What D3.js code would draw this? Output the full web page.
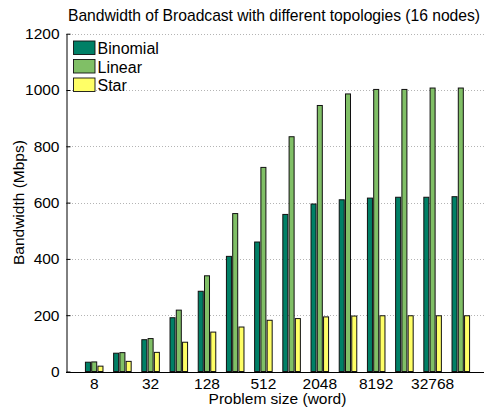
<!DOCTYPE html>
<html>
<head>
<meta charset="utf-8">
<script src="https://cdn.jsdelivr.net/npm/d3@7"></script>
<style>
  html, body { margin: 0; padding: 0; background: #fff; }
  svg { display: block; }
  text { font-family: "Liberation Sans", Arial, Helvetica, sans-serif; fill: #000; }
</style>
</head>
<body>
<svg id="chart" width="484" height="409"></svg>
<script>
const categories = ['8','16','32','64','128','256','512','1024','2048','4096','8192','16384','32768','65536'];
const tickLabels = ['8','32','128','512','2048','8192','32768'];
const seriesNames = ['Binomial','Linear','Star'];
const binomial = [33, 65, 113, 191, 285, 409, 460, 558, 595, 610, 616, 619, 619, 621];
const linear   = [34, 67, 117, 218, 340, 561, 725, 834, 945, 986, 1002, 1002, 1007, 1007];
const star     = [19, 36, 68, 104, 140, 158, 182, 188, 194, 197, 198, 198, 198, 198];
const yTicks = [0, 200, 400, 600, 800, 1000, 1200];
const colors = ['#008066', '#80bf66', '#ffff66'];

const seriesValues = [binomial, linear, star];
const FS = 15.5;

const svg = d3.select('#chart');
const x0 = 66, step = 28.2, nSlots = 15;
const xEnd = x0 + nSlots * step;
const yScale = d3.scaleLinear().domain([0, 1200]).range([371.5, 33.7]);

const x = d3.scaleBand().domain(categories)
  .range([x0 + step * 0.5, x0 + step * (categories.length + 0.5)])
  .paddingInner(0).paddingOuter(0);
const groupWidth = x.step() * Math.min(0.8, 3 / (3 + 1.5));
const xs = d3.scaleBand().domain(seriesNames).range([-groupWidth / 2, groupWidth / 2]);
const barW = xs.bandwidth() * 0.8;

// grid
const grid = svg.append('g');
yTicks.filter(t => t > 0).forEach(t => {
  const yy = Math.round(yScale(t)) + 0.5;
  grid.append('line').attr('x1', x0).attr('x2', 484).attr('y1', yy).attr('y2', yy)
    .attr('stroke', '#b4b4b4').attr('stroke-width', 1).attr('stroke-dasharray', '1,2');
});

// bars
const bars = svg.append('g');
seriesNames.forEach((s, si) => {
  bars.selectAll('rect.s' + si)
    .data(categories.map((c, i) => ({ c, v: seriesValues[si][i] })))
    .enter().append('rect')
    .attr('x', d => x(d.c) + x.bandwidth() / 2 + xs(s) + (xs.bandwidth() - barW) / 2)
    .attr('y', d => yScale(d.v))
    .attr('width', barW)
    .attr('height', d => yScale(0) - yScale(d.v))
    .attr('fill', colors[si])
    .attr('stroke', '#111')
    .attr('stroke-width', 1);
});

// baseline
svg.append('line').attr('x1', x0).attr('x2', 484)
  .attr('y1', Math.round(yScale(0)) + 0.5).attr('y2', Math.round(yScale(0)) + 0.5)
  .attr('stroke', '#000').attr('stroke-width', 1);

// y axis
const yAxis = d3.axisLeft(yScale).tickValues(yTicks).tickFormat(d3.format('d'))
  .tickSizeInner(-4).tickSizeOuter(0).tickPadding(7);
const yg = svg.append('g').attr('transform', `translate(${x0 + 0.5},0)`).call(yAxis);
yg.select('.domain').attr('stroke', '#000');
yg.selectAll('.tick line').attr('stroke', '#000');
yg.selectAll('.tick text').attr('font-size', FS).attr('font-family', '"Liberation Sans", Arial, sans-serif').attr('fill', '#000');

// x axis labels
const xAxis = d3.axisBottom(x).tickValues(tickLabels).tickSize(0).tickPadding(6);
const xg = svg.append('g').attr('transform', `translate(0,${yScale(0)})`).call(xAxis);
xg.select('.domain').remove();
xg.selectAll('.tick text').attr('font-size', FS).attr('font-family', '"Liberation Sans", Arial, sans-serif').attr('fill', '#000');

const cx = (x0 + xEnd) / 2;
// title
svg.append('text').attr('x', 68).attr('y', 21).attr('text-anchor', 'start')
  .attr('font-size', 15.7).attr('textLength', 412).attr('lengthAdjust', 'spacing')
  .text('Bandwidth of Broadcast with different topologies (16 nodes)');
// x label
svg.append('text').attr('x', cx).attr('y', 404).attr('text-anchor', 'middle')
  .attr('font-size', FS).text('Problem size (word)');
// y label
svg.append('text').attr('transform', `translate(24,${(yScale(0) + yScale(1200)) / 2}) rotate(-90)`)
  .attr('text-anchor', 'middle').attr('font-size', FS).text('Bandwidth (Mbps)');

// legend
const lg = svg.append('g');
seriesNames.forEach((s, i) => {
  const top = 41 + i * 18.5;
  lg.append('rect').attr('x', 73.5).attr('y', top).attr('width', 21.5).attr('height', 13.5)
    .attr('fill', colors[i]).attr('stroke', '#111').attr('stroke-width', 0.9);
  lg.append('text').attr('x', 97.5).attr('y', top + 13.3).attr('font-size', 16).text(s);
});
</script>
</body>
</html>
